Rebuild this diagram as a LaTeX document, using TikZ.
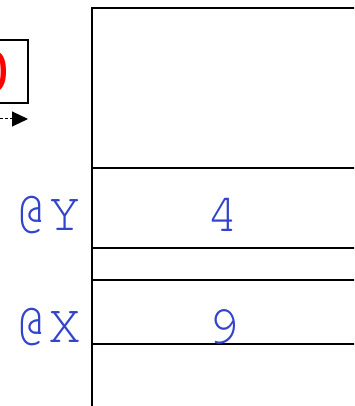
\documentclass[tikz,border=0pt]{standalone}
\usepackage{fontspec}
\setmainfont{Liberation Sans}
\newfontfamily\monof[Extension=.otf]{texgyrecursor-regular}
\usetikzlibrary{arrows.meta}
\definecolor{lblblue}{RGB}{51,68,204}
\begin{document}
\begin{tikzpicture}[x=1pt,y=-1pt,
  line/.style={line width=2pt},
  val/.style={inner sep=0pt, text=lblblue, font=\monof\fontsize{55}{55}\selectfont},
  redtxt/.style={inner sep=0pt, text=red, font=\fontsize{60}{60}\selectfont}]
\useasboundingbox (0,0) rectangle (354,406);
\clip (0,0) rectangle (354,406);
% left partial box with red 0
\draw[line] (-60,40) rectangle (28,103);
\node[redtxt] (zero) at (-8,71.5) {0};
\coordinate (arrS) at (-40,119);
\coordinate (arrE) at (28,119);
\draw[line width=1pt, dash pattern=on 3pt off 2pt, -{Triangle[length=16pt,width=15pt]}] (arrS) -- (arrE);
% stack
\coordinate (tl) at (92,8);
\coordinate (tr) at (360,8);
\coordinate (bl) at (92,410);
\draw[line] (tr) -- (tl) -- (bl);
\foreach \yy in {168,248,280,344}{
  \draw[line] (92,\yy) -- (360,\yy);
}
\node[val] (v4) at (223,215) {4};
\node[val] (v9) at (224,327) {9};
\node[val] (ly) at (48.5,215.5) {@Y};
\node[val] (lx) at (48.5,327.5) {@X};
\end{tikzpicture}
\end{document}
